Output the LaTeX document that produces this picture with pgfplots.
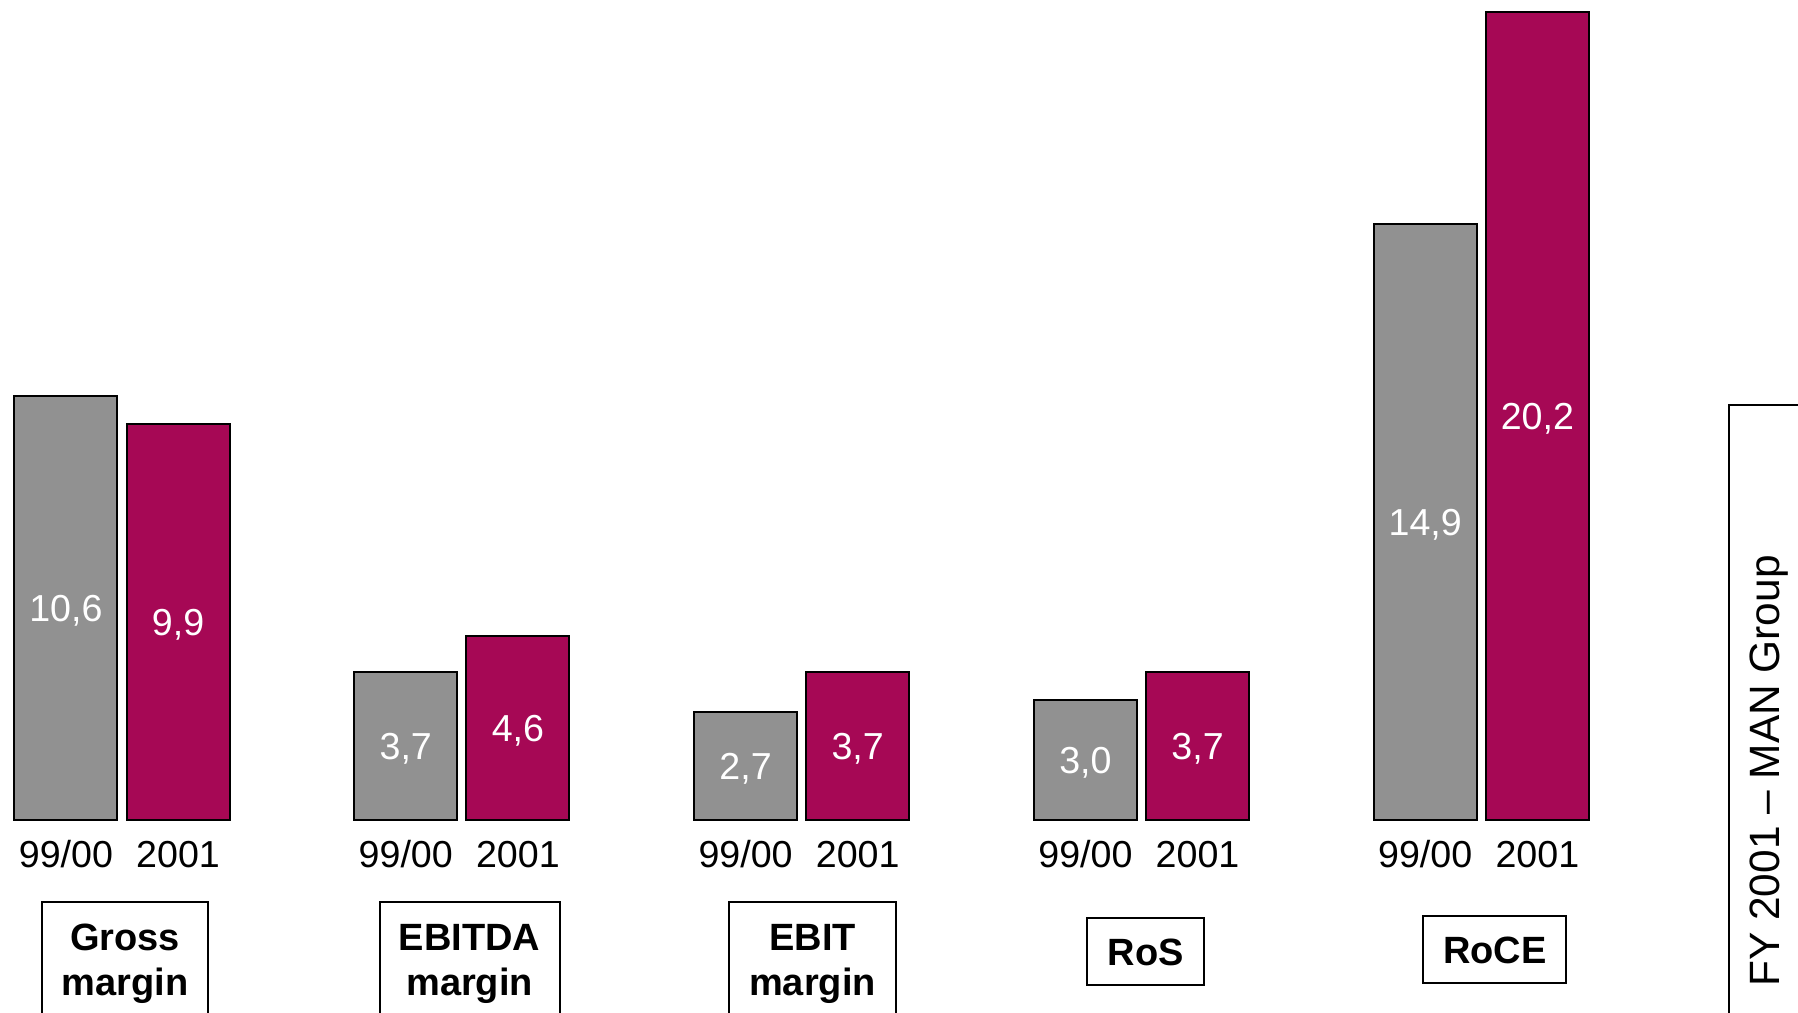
\documentclass[border=0pt]{standalone}
\usepackage{fontspec}
\setmainfont{Liberation Sans}
\usepackage{pgfplots}
\pgfplotsset{compat=1.18}
\usepackage{pgfplotstable}
\definecolor{bargray}{RGB}{145,145,145}
\definecolor{barmag}{RGB}{166,8,85}

\pgfplotstableread{
idx prev cur
0 10.6 9.9
1 3.7 4.6
2 2.7 3.7
3 3.0 3.7
4 14.9 20.2
}\data

\begin{document}
\begin{tikzpicture}
\useasboundingbox (0,0) rectangle (449.5pt,253.25pt);
\clip (0,0) rectangle (449.5pt,253.25pt);
\begin{axis}[
  at={(0pt,48.25pt)}, anchor=south west,
  scale only axis, width=449.5pt, height=205pt,
  xmin=-0.359, xmax=4.932, ymin=0, ymax=20.5,
  axis line style={draw=none},
  tick style={draw=none},
  ytick=\empty,
  xtick={-0.165,0.165,0.835,1.165,1.835,2.165,2.835,3.165,3.835,4.165},
  xticklabels={99/00,2001,99/00,2001,99/00,2001,99/00,2001,99/00,2001},
  xticklabel style={anchor=center, yshift=-8.6pt, font=\fontsize{9.4}{10}\selectfont},
  clip=false,
  /pgf/number format/assume math mode=true,
  every node near coord/.append style={anchor=center, yshift=-0.6pt, text=white, font=\fontsize{9.4}{10}\selectfont},
  nodes near coords={\pgfmathprintnumber[fixed,fixed zerofill,precision=1,use comma]{\pgfplotspointmeta}},
]
\addplot[ybar, bar width=0.303, bar shift=-0.165, fill=bargray, draw=black, line width=0.5pt, nodes near coords=] table[x=idx,y=prev]{\data};
\addplot[ybar, bar width=0.303, bar shift=0.165, fill=barmag, draw=black, line width=0.5pt, nodes near coords=] table[x=idx,y=cur]{\data};
\addplot[draw=none, mark=none, forget plot, point meta=explicit] table[x expr=\thisrow{idx}-0.165, y expr=\thisrow{prev}/2, meta=prev]{\data};
\addplot[draw=none, mark=none, forget plot, point meta=explicit] table[x expr=\thisrow{idx}+0.165, y expr=\thisrow{cur}/2, meta=cur]{\data};
\end{axis}
\begin{scope}[x=0.25pt, y=-0.25pt, shift={(0,253.25pt)}]
\tikzset{catbox/.style={draw=black, line width=0.5pt}, cat/.style={align=center, font=\fontsize{9.5}{11.2}\selectfont\bfseries}}
\draw[catbox] (42.4,902.5) rectangle (207.5,1040);
\node[cat] at (125,964) {Gross\\margin};
\draw[catbox] (379.6,902.5) rectangle (559.6,1040);
\node[cat] at (469.6,964) {EBITDA\\margin};
\draw[catbox] (729.3,902.5) rectangle (895.6,1040);
\node[cat] at (812.5,964) {EBIT\\margin};
\draw[catbox] (1087,918.5) rectangle (1204,985);
\node[cat] at (1145.6,952) {RoS};
\draw[catbox] (1423,916) rectangle (1566,982.7);
\node[cat] at (1494.7,950) {RoCE};
\draw[line width=0.5pt] (1810,404.8) -- (1729,404.8) -- (1729,1040);
\node[rotate=90, font=\fontsize{10.6}{12}\selectfont] at (1769,771) {FY 2001 – MAN Group};
\end{scope}
\end{tikzpicture}
\end{document}
